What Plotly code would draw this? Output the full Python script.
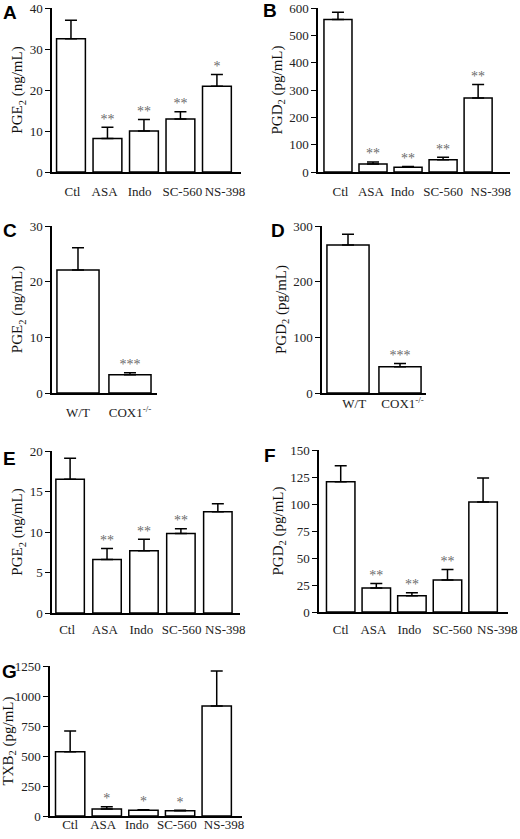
import plotly.graph_objects as go

W, H = 520, 839

# categories
cats_drug = ["Ctl", "ASA", "Indo", "SC-560", "NS-398"]
cats_ko = ["W/T", "COX1<sup>-/-</sup>"]

# panel values (mean, SEM)
a_mean = [32.5, 8.2, 10.0, 12.9, 20.9]
a_sem = [4.5, 2.7, 2.8, 1.8, 2.9]
a_star = ["", "**", "**", "**", "*"]

b_mean = [558, 29, 17, 45, 271]
b_sem = [26, 8, 3, 9, 49]
b_star = ["", "**", "**", "**", "**"]

c_mean = [22.1, 3.3]
c_sem = [4.0, 0.35]
c_star = ["", "***"]

d_mean = [266, 47]
d_sem = [19, 6]
d_star = ["", "***"]

e_mean = [16.5, 6.6, 7.7, 9.8, 12.5]
e_sem = [2.6, 1.35, 1.4, 0.6, 1.0]
e_star = ["", "**", "**", "**", ""]

f_mean = [120.5, 22.3, 15.1, 29.6, 101.9]
f_sem = [15.0, 4.0, 2.8, 9.8, 22.2]
f_star = ["", "**", "**", "**", ""]

g_mean = [536, 58, 47, 44, 917]
g_sem = [172, 20, 6, 4, 291]
g_star = ["", "*", "*", "*", ""]

SERIF = "Liberation Serif"

fig = go.Figure()


def add_panel(n, letter, cats, mean, sem, star, ymax, dtick, ytitle,
              box, xr, lab_gap, lab_shift, letter_xy, barw=0.8):
    # box = (left, right, top, bottom) in pixels
    l, r, t, b = box
    xa = "x" if n == 1 else f"x{n}"
    ya = "y" if n == 1 else f"y{n}"
    fig.add_trace(go.Bar(
        x=cats, y=mean, width=barw,
        marker=dict(color="white", line=dict(color="black", width=1.5)),
        error_y=dict(type="data", symmetric=False, array=sem,
                     arrayminus=[0] * len(sem), color="black",
                     thickness=1.5, width=6),
        xaxis=xa, yaxis=ya, showlegend=False,
    ))
    fig.add_trace(go.Scatter(
        x=cats, y=[m + s for m, s in zip(mean, sem)], text=star,
        mode="text", textposition="top center",
        textfont=dict(family=SERIF, size=14, color="#6a6a6a"),
        xaxis=xa, yaxis=ya, showlegend=False, cliponaxis=False,
    ))
    key = "" if n == 1 else str(n)
    # labels nudged sideways a bit, like the original layout
    xax = dict(
        domain=[l / W, r / W], anchor=ya, range=xr, showline=True,
        linecolor="black", linewidth=1.5, showgrid=False, tickangle=0,
        automargin=False, tickmode="array", ticklabeloverflow="allow",
        tickvals=[i + s for i, s in enumerate(lab_shift)], ticktext=cats,
        tickfont=dict(family=SERIF, size=13, color="#222"),
    )
    if lab_gap > 0:
        xax.update(ticks="outside", ticklen=lab_gap, tickcolor="rgba(0,0,0,0)")
    else:
        xax.update(ticks="", ticklabelstandoff=lab_gap)
    fig.update_layout(**{
        f"xaxis{key}": xax,
        f"yaxis{key}": dict(
            domain=[1 - b / H, 1 - t / H], anchor=xa, range=[0, ymax],
            dtick=dtick, showline=True, linecolor="black", linewidth=1.5,
            ticks="outside", ticklen=5, tickwidth=1.3, tickcolor="black",
            showgrid=False, zeroline=False, automargin=False,
            ticklabeloverflow="allow",
            tickfont=dict(family=SERIF, size=13, color="#222"),
            title=dict(text=ytitle, standoff=3,
                       font=dict(family=SERIF, size=15, color="#111")),
        ),
    })
    fig.add_annotation(
        text=f"<b>{letter}</b>", x=letter_xy[0] / W, y=1 - letter_xy[1] / H,
        xref="paper", yref="paper", xanchor="left", yanchor="middle",
        showarrow=False, font=dict(family="Liberation Sans", size=19, color="black"),
    )


pge = "PGE<sub>2</sub> (ng/mL)"
pgd = "PGD<sub>2</sub> (pg/mL)"
txb = "TXB<sub>2</sub> (pg/mL)"

add_panel(1, "A", cats_drug, a_mean, a_sem, a_star, 40, 10, pge,
          (52, 241, 8, 172), [-0.52, 4.66], 7,
          [0.04, -0.08, -0.12, 0.05, 0.22], (1, 13), 0.79)
add_panel(2, "B", cats_drug, b_mean, b_sem, b_star, 600, 100, pgd,
          (318, 510, 8, 172), [-0.57, 4.91], 7,
          [0.07, -0.06, -0.16, 0, 0.36], (261, 11))
add_panel(3, "C", cats_ko, c_mean, c_sem, c_star, 30, 10, pge,
          (52, 157, 226, 393), [-0.5, 1.52], 7, [0, 0], (1, 230.5), 0.81)
add_panel(4, "D", cats_ko, d_mean, d_sem, d_star, 300, 100, pgd,
          (322, 426, 226, 393), [-0.5, 1.5], -2, [0.12, 0.05], (269, 230.5), 0.81)
add_panel(5, "E", cats_drug, e_mean, e_sem, e_star, 20, 5, pge,
          (52, 240, 451, 613), [-0.49, 4.6], 4,
          [-0.08, -0.06, -0.07, 0.02, 0.2], (1, 458.5), 0.77)
add_panel(6, "F", cats_drug, f_mean, f_sem, f_star, 150, 25, pgd,
          (319, 508, 450, 612), [-0.61, 4.7], 5,
          [0, -0.08, -0.07, 0.14, 0.4], (262, 455))
add_panel(7, "G", cats_drug, g_mean, g_sem, g_star, 1250, 250, txb,
          (50, 242, 666, 816), [-0.55, 4.69], -4,
          [0, -0.1, -0.18, -0.09, 0.2], (0, 671))

fig.update_layout(
    width=W, height=H, margin=dict(l=0, r=0, t=0, b=0),
    paper_bgcolor="white", plot_bgcolor="white",
)

fig.write_html("out.html", config={"displayModeBar": False},
               post_script="document.body.style.margin = '0px';")
